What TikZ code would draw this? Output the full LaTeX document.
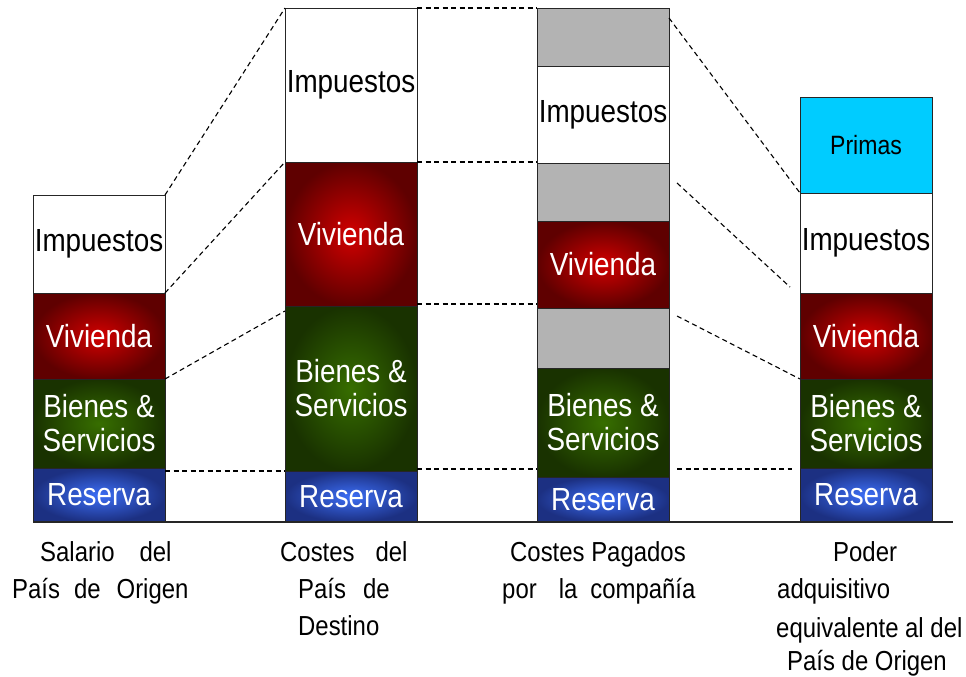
\documentclass[tikz,border=0pt]{standalone}
\usepackage{fontspec}
\setmainfont{Liberation Sans}[FakeStretch=0.87]
\definecolor{redin}{RGB}{210,0,0}
\definecolor{redout}{RGB}{95,0,0}
\definecolor{grnin}{RGB}{55,110,0}
\definecolor{grnout}{RGB}{25,50,0}
\definecolor{bluin}{RGB}{60,110,245}
\definecolor{bluout}{RGB}{28,48,130}
\definecolor{grayfill}{RGB}{179,179,179}
\definecolor{cyanfill}{RGB}{0,204,255}
\begin{document}
\begin{tikzpicture}[x=1pt,y=-1pt,
  seg/.style={rectangle, draw=black!85, line width=0.8pt, minimum width=132pt,
    inner sep=0pt, outer sep=0pt, anchor=north west, align=center,
    font=\fontsize{32}{34}\selectfont},
  wbox/.style={seg, fill=white, text=black},
  gbox/.style={seg, fill=grayfill},
  cbox/.style={seg, fill=cyanfill, text=black, font=\fontsize{26.5}{30}\selectfont},
  redbox/.style={seg, inner color=redin, outer color=redout, text=white},
  grnbox/.style={seg, inner color=grnin, outer color=grnout, text=white},
  blubox/.style={seg, inner color=bluin, outer color=bluout, text=white},
  dsh/.style={dash pattern=on 5pt off 3.5pt, line width=1.1pt},
  lbl/.style={anchor=base west, inner sep=0pt, font=\fontsize{27.5}{30}\selectfont}
]
\useasboundingbox (0,0) rectangle (966,677);

% column 1
\node[wbox, minimum height=98pt] (c1imp) at (33,195) {Impuestos};
\node[redbox, minimum height=86pt] (c1viv) at (33,293) {Vivienda};
\node[grnbox, minimum height=89pt] (c1bie) at (33,379) {Bienes \&\\Servicios};
\node[blubox, minimum height=54pt] (c1res) at (33,468) {Reserva};

% column 2
\node[wbox, minimum height=154pt] (c2imp) at (285,8) {Impuestos};
\node[redbox, minimum height=144pt] (c2viv) at (285,162) {Vivienda};
\node[grnbox, minimum height=165pt] (c2bie) at (285,306) {Bienes \&\\Servicios};
\node[blubox, minimum height=51pt] (c2res) at (285,471) {Reserva};

% column 3
\node[gbox, minimum height=58pt] (c3g1) at (537,8) {};
\node[wbox, minimum height=97pt] (c3imp) at (537,66) {Impuestos};
\node[gbox, minimum height=58pt] (c3g2) at (537,163) {};
\node[redbox, minimum height=87pt] (c3viv) at (537,221) {Vivienda};
\node[gbox, minimum height=60pt] (c3g3) at (537,308) {};
\node[grnbox, minimum height=109pt] (c3bie) at (537,368) {Bienes \&\\Servicios};
\node[blubox, minimum height=45pt] (c3res) at (537,477) {Reserva};

% column 4
\node[cbox, minimum height=96pt] (c4pri) at (800,97) {Primas};
\node[wbox, minimum height=100pt] (c4imp) at (800,193) {Impuestos};
\node[redbox, minimum height=86pt] (c4viv) at (800,293) {Vivienda};
\node[grnbox, minimum height=89pt] (c4bie) at (800,379) {Bienes \&\\Servicios};
\node[blubox, minimum height=54pt] (c4res) at (800,468) {Reserva};

% base line
\coordinate (axend) at (953,522);
\draw[line width=1.5pt, draw=black!85] (c1res.south west) -- (axend);

% connectors column 1 -> 2
\draw[dsh] (c1imp.north east) -- (c2imp.north west);
\draw[dsh] (c1imp.south east) -- (c2imp.south west);
\draw[dsh] (c1viv.south east) -- ([yshift=-5pt]c2viv.south west);
\draw[dsh] (c1bie.east |- c2bie.south west) -- (c2bie.south west);

% connectors column 2 -> 3
\draw[dsh] (c2imp.north east) -- (c3g1.north west);
\draw[dsh] (c2imp.south east) -- (c2imp.south east -| c3imp.west);
\draw[dsh] ([yshift=2pt]c2viv.south east) -- ([yshift=2pt]c2viv.south east -| c3viv.west);
\draw[dsh] ([yshift=2pt]c2bie.south east) -- ([yshift=2pt]c2bie.south east -| c3bie.west);

% connectors column 3 -> 4
\draw[dsh] ([yshift=-10pt]c3g1.north east) -- (c4pri.south west);
\draw[dsh] ([shift={(8pt,-20pt)}]c3g2.north east) -- ([shift={(-10pt,6pt)}]c4imp.south west);
\draw[dsh] ([shift={(8pt,-8pt)}]c3g3.north east) -- (c4bie.north west);
\draw[dsh] ([shift={(8pt,8pt)}]c3bie.south east) -- ([shift={(-8pt,-1pt)}]c4bie.south west);

% labels
\node[lbl] (l1a) at (40,561) {Salario\hspace{25pt}del};
\node[lbl] (l1b) at (12,598) {País\hspace{14pt}de\hspace{16pt}Origen};
\node[lbl] (l2a) at (280,561) {Costes\hspace{21pt}del};
\node[lbl] (l2b) at (298,598) {País\hspace{17pt}de};
\node[lbl] (l2c) at (298,635) {Destino};
\node[lbl] (l3a) at (510,561) {Costes Pagados};
\node[lbl] (l3b) at (502,598) {por\hspace{22pt}la\hspace{13pt}compañía};
\node[lbl] (l4a) at (833,561) {Poder};
\node[lbl] (l4b) at (777,598) {adquisitivo};
\node[lbl] (l4c) at (776,637) {equivalente al del};
\node[lbl] (l4d) at (787,670) {País de Origen};
\end{tikzpicture}
\end{document}
